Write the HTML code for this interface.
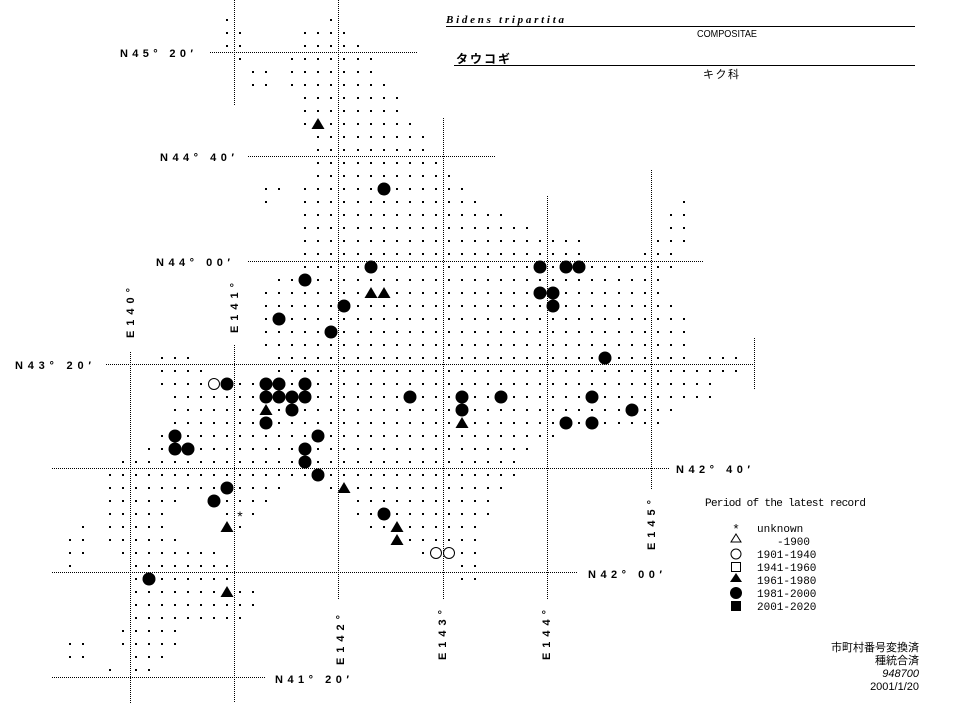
<!DOCTYPE html>
<html><head><meta charset="utf-8">
<style>
html,body{margin:0;padding:0;background:#fff;}
svg{display:block;}
.lb{font-family:"Liberation Sans",sans-serif;font-weight:bold;font-size:11px;fill:#000;}
.lg{font-family:"Liberation Mono","DejaVu Sans Mono",monospace;font-size:11px;fill:#000;}
.jp{font-family:"Liberation Sans","Noto Sans CJK JP",sans-serif;font-size:11px;fill:#000;}
</style></head>
<body>
<svg id="m" width="974" height="703" viewBox="0 0 974 703" xmlns="http://www.w3.org/2000/svg" shape-rendering="crispEdges">
<rect width="974" height="703" fill="#fff"/>
<g stroke="#000" stroke-width="1" stroke-dasharray="1 1" fill="none">
<line x1="210" y1="52.5" x2="417" y2="52.5"/>
<line x1="248" y1="156.5" x2="495" y2="156.5"/>
<line x1="248" y1="261.5" x2="703" y2="261.5"/>
<line x1="106" y1="364.5" x2="754" y2="364.5"/>
<line x1="52" y1="468.5" x2="670" y2="468.5"/>
<line x1="52" y1="572.5" x2="577" y2="572.5"/>
<line x1="52" y1="677.5" x2="265" y2="677.5"/>
<line x1="234.5" y1="0" x2="234.5" y2="105"/>
<line x1="234.5" y1="345" x2="234.5" y2="703"/>
<line x1="338.5" y1="0" x2="338.5" y2="600"/>
<line x1="443.5" y1="118" x2="443.5" y2="600"/>
<line x1="547.5" y1="196" x2="547.5" y2="600"/>
<line x1="651.5" y1="170" x2="651.5" y2="490"/>
<line x1="754.5" y1="338" x2="754.5" y2="390"/>
<line x1="130.5" y1="352" x2="130.5" y2="703"/>
</g>
<g id="dots" fill="#000"></g>
<g id="marks" fill="#000" shape-rendering="auto"></g>

<g class="lb">
<text x="120" y="57" textLength="73">N45° 20′</text>
<text x="160" y="161" textLength="74">N44° 40′</text>
<text x="156" y="266" textLength="74">N44° 00′</text>
<text x="15" y="369" textLength="76">N43° 20′</text>
<text x="676" y="473" textLength="74">N42° 40′</text>
<text x="588" y="578" textLength="74">N42° 00′</text>
<text x="275" y="683" textLength="74">N41° 20′</text>
<text transform="translate(134,338) rotate(-90)" textLength="50">E140°</text>
<text transform="translate(238,333) rotate(-90)" textLength="50">E141°</text>
<text transform="translate(344,665) rotate(-90)" textLength="50">E142°</text>
<text transform="translate(446,660) rotate(-90)" textLength="50">E143°</text>
<text transform="translate(550,660) rotate(-90)" textLength="50">E144°</text>
<text transform="translate(655,550) rotate(-90)" textLength="50">E145°</text>
</g>

<text x="446" y="23" font-family="Liberation Serif,serif" font-style="italic" font-weight="bold" font-size="11" textLength="118">Bidens tripartita</text>
<line x1="446" y1="26.5" x2="915" y2="26.5" stroke="#000"/>
<text x="697" y="37" font-family="Liberation Sans,sans-serif" font-size="10" textLength="60" lengthAdjust="spacingAndGlyphs">COMPOSITAE</text>
<text x="456" y="63" font-family="Liberation Sans,'Noto Sans CJK JP',sans-serif" font-weight="bold" font-size="12" textLength="54">タウコギ</text>
<line x1="454" y1="65.5" x2="915" y2="65.5" stroke="#000"/>
<text x="703" y="78" class="jp" textLength="36">キク科</text>

<g class="lg">
<text x="705" y="506" textLength="161">Period of the latest record</text>
<text x="757" y="532">unknown</text>
<text x="777" y="545">-1900</text>
<text x="757" y="558">1901-1940</text>
<text x="757" y="571">1941-1960</text>
<text x="757" y="584">1961-1980</text>
<text x="757" y="597">1981-2000</text>
<text x="757" y="610">2001-2020</text>
</g>
<g shape-rendering="auto">
<text x="736" y="533" font-family="Liberation Sans,sans-serif" font-size="13" text-anchor="middle">*</text>
<polygon points="736,534 741,542 731,542" fill="none" stroke="#000"/>
<circle cx="736" cy="554" r="5" fill="none" stroke="#000"/>
<rect x="731.5" y="562.5" width="9" height="9" fill="none" stroke="#000"/>
<polygon points="736,573 742,582 730,582" fill="#000"/>
<circle cx="736" cy="593" r="6" fill="#000"/>
<rect x="731" y="601" width="10" height="10" fill="#000"/>
</g>

<g class="jp" text-anchor="end">
<text x="919" y="651">市町村番号変換済</text>
<text x="919" y="664">種統合済</text>
<text x="919" y="677" font-style="italic">948700</text>
<text x="919" y="690">2001/1/20</text>
</g>
</svg>
<script>
var R={0:[[0,0],[8,8]],1:[[0,1],[6,9]],2:[[0,1],[6,10]],3:[[1,1],[5,11]],4:[[2,3],[5,11]],5:[[2,3],[5,12]],
6:[[6,13]],7:[[6,13]],8:[[6,14]],9:[[7,15]],10:[[7,15]],11:[[7,16]],12:[[7,17]],13:[[3,4],[6,18]],
14:[[3,3],[6,19],[35,35]],15:[[6,21],[34,35]],16:[[6,23],[34,35]],17:[[6,27],[33,35]],18:[[6,27],[32,34]],
19:[[6,34]],20:[[4,33]],21:[[3,33]],22:[[3,34]],23:[[3,35]],24:[[3,35]],25:[[3,35]],
26:[[-5,-3],[4,35],[37,39]],27:[[-5,-2],[4,39]],28:[[-5,37]],29:[[-4,37]],30:[[-4,34]],31:[[-4,33]],
32:[[-5,25]],33:[[-6,23]],34:[[-8,22]],35:[[-9,22]],36:[[-9,4],[8,21]],37:[[-9,-4],[-1,3],[10,20]],
38:[[-9,-5],[0,2],[10,20]],39:[[-11,-11],[-9,-5],[0,1],[11,19]],40:[[-12,-11],[-9,-4],[13,19]],
41:[[-12,-11],[-8,-1],[15,19]],42:[[-12,-12],[-7,0],[18,19]],43:[[-7,0],[18,19]],44:[[-7,2]],45:[[-7,2]],
46:[[-7,1]],47:[[-8,-4]],48:[[-12,-11],[-8,-4]],49:[[-12,-11],[-7,-5]],50:[[-9,-9],[-7,-6]]};
var M=[["t",7,8],["c",12,13],["c",11,19],["c",24,19],["c",26,19],["c",27,19],["c",6,20],
["t",11,21],["t",12,21],["c",24,21],["c",25,21],["c",9,22],["c",25,22],["c",4,23],["c",8,24],["c",29,26],
["o",-1,28],["c",0,28],["c",3,28],["c",4,28],["c",6,28],
["c",3,29],["c",4,29],["c",5,29],["c",6,29],["c",14,29],["c",18,29],["c",21,29],["c",28,29],
["t",3,30],["c",5,30],["c",18,30],["c",31,30],["c",3,31],["t",18,31],["c",26,31],["c",28,31],
["c",-4,32],["c",7,32],["c",-4,33],["c",-3,33],["c",6,33],["c",6,34],["c",7,35],["c",0,36],["t",9,36],
["c",-1,37],["a",1,38],["c",12,38],["t",0,39],["t",13,39],["t",13,40],["o",16,41],["o",17,41],["c",-6,43],["t",0,44]];
function X(c){return Math.round(227+13.05*c);}function Y(r){return 20+13*r;}
var ns="http://www.w3.org/2000/svg",skip={};M.forEach(function(m){skip[m[1]+","+m[2]]=1;});
var d=document.getElementById("dots"),mk=document.getElementById("marks");
for(var r in R){R[r].forEach(function(s){for(var c=s[0];c<=s[1];c++){if(skip[c+","+r])continue;
var e=document.createElementNS(ns,"rect");e.setAttribute("x",X(c)-1);e.setAttribute("y",Y(+r)-1);
e.setAttribute("width",2);e.setAttribute("height",2);d.appendChild(e);}});}
M.forEach(function(m){var x=X(m[1]),y=Y(m[2]),e;
if(m[0]=="c"){e=document.createElementNS(ns,"circle");e.setAttribute("cx",x);e.setAttribute("cy",y);e.setAttribute("r",6.5);}
else if(m[0]=="o"){e=document.createElementNS(ns,"circle");e.setAttribute("cx",x);e.setAttribute("cy",y);e.setAttribute("r",5.5);e.setAttribute("fill","none");e.setAttribute("stroke","#000");}
else if(m[0]=="t"){e=document.createElementNS(ns,"polygon");e.setAttribute("points",(x)+","+(y-6)+" "+(x+6.5)+","+(y+5)+" "+(x-6.5)+","+(y+5));}
else{e=document.createElementNS(ns,"text");e.setAttribute("x",x);e.setAttribute("y",y+7);e.setAttribute("text-anchor","middle");e.setAttribute("font-size","14");e.setAttribute("font-family","Liberation Sans,sans-serif");e.textContent="*";}
mk.appendChild(e);});
</script>
</body></html>
